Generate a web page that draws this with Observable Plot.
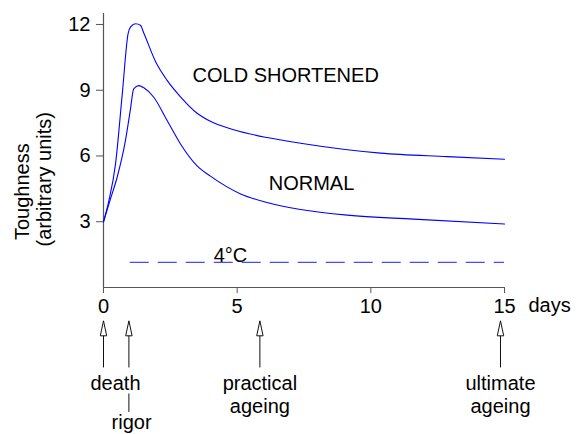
<!DOCTYPE html>
<html>
<head>
<meta charset="utf-8">
<script src="https://cdn.jsdelivr.net/npm/d3@7"></script>
<script src="https://cdn.jsdelivr.net/npm/@observablehq/plot@0.6"></script>
<style>
  html, body { margin: 0; padding: 0; background: #fff; }
</style>
</head>
<body>
<div id="chart"></div>
<script>
// ---- data ----
const coldDays      = [0, 0.2, 0.45, 0.7, 0.92, 1.02, 1.2, 1.38, 1.51, 1.95, 2.38, 2.88, 3.5, 4.0, 4.87, 6.12, 7.37, 10.36, 12.86, 15];
const coldToughness = [3.0, 3.95, 5.64, 8.8, 11.58, 11.9, 12.03, 11.96, 11.6, 10.3, 9.45, 8.7, 7.95, 7.58, 7.2, 6.84, 6.58, 6.13, 5.97, 5.85];

const normalDays      = [0, 0.25, 0.51, 0.82, 1.0, 1.13, 1.32, 1.51, 1.88, 2.38, 2.88, 3.5, 4.0, 5.13, 6.12, 7.37, 9.12, 11.6, 15];
const normalToughness = [3.0, 4.0, 5.03, 6.7, 8.07, 9.06, 9.21, 9.11, 8.68, 7.62, 6.55, 5.55, 5.08, 4.27, 3.88, 3.56, 3.3, 3.12, 2.9];

const seriesNames     = ["COLD SHORTENED", "NORMAL"];
const seriesLabelDay  = [3.33, 6.18];
const seriesLabelTough= [9.67, 4.72];

const tempLabel = "4°C";
const tempLevel = 1.15;
const tempStartDay = 1;
const tempEndDay = 15;

const xTicks = [0, 5, 10, 15];
const yTicks = [3, 6, 9, 12];
const xUnit = "days";
const yTitleLines = ["Toughness", "(arbitrary units)"];

const eventNames     = ["death", "rigor", "practical\nageing", "ultimate\nageing"];
const eventDays      = [0, 0.95, 5.85, 14.85];
const eventLabelDays = [0.45, 1.05, 5.85, 14.85];
const eventLabelRow  = [0, 1, 0, 0];

// ---- tables ----
const cold = coldDays.map((d, i) => ({day: d, tough: coldToughness[i]}));
const normal = normalDays.map((d, i) => ({day: d, tough: normalToughness[i]}));
const events = eventNames.map((n, i) => ({name: n, day: eventDays[i], labelDay: eventLabelDays[i], row: eventLabelRow[i]}));

// layout (annotation rows below the axis, in y-scale units)
const lay = {shaftBottom: -3.67, shaftTop: -2.2, tip: -1.52, row0: -3.93, row1: -5.72, rigorLink1: -4.86, rigorLink2: -5.7};

const arrowHead = {
  draw(context) {
    context.moveTo(0, 0);
    context.lineTo(3.2, 15);
    context.lineTo(-3.2, 15);
    context.closePath();
  }
};

const blue = "#0000ff";
const axisGray = "#555";

const chart = Plot.plot({
  width: 579,
  height: 434,
  marginLeft: 103,
  marginRight: 75,
  marginTop: 13,
  marginBottom: 147,
  x: {domain: [0, 15]},
  y: {domain: [0, 12.5]},
  style: {fontFamily: "'Liberation Sans', Arial, Helvetica, sans-serif", fontSize: "20px", color: "black", background: "white"},
  marks: [
    Plot.axisX({ticks: xTicks, tickSize: 6, tickPadding: 5, stroke: axisGray, label: null}),
    Plot.axisY({ticks: yTicks, tickSize: 7, tickPadding: 6, stroke: axisGray, label: null}),
    Plot.ruleY([0], {x1: 0, x2: 15, stroke: axisGray, strokeWidth: 1.2}),
    Plot.ruleX([0], {y1: 0, y2: 12.5, stroke: axisGray, strokeWidth: 1.2}),
    Plot.text([xUnit], {x: () => 15, y: () => 0, dx: 24, dy: 10.5, textAnchor: "start", lineAnchor: "top", text: d => d}),
    Plot.text(yTitleLines, {x: [-3.027, -2.185], y: [4.37, 4.94], rotate: -90, text: d => d, textAnchor: "middle", lineAnchor: "middle"}),

    // reference temperature
    Plot.ruleY([tempLevel], {x1: tempStartDay, x2: tempEndDay, stroke: "#4a4aff", strokeWidth: 1.2, strokeDasharray: "19,9"}),
    Plot.text([tempLabel], {x: () => 4.75, y: () => 1.45, text: d => d, textAnchor: "middle"}),

    // curves
    Plot.line(cold, {x: "day", y: "tough", stroke: blue, strokeWidth: 1.1, curve: "monotone-x"}),
    Plot.line(normal, {x: "day", y: "tough", stroke: blue, strokeWidth: 1.1, curve: "monotone-x"}),
    Plot.text(seriesNames, {x: seriesLabelDay, y: seriesLabelTough, text: d => d, textAnchor: "start"}),

    // event arrows
    Plot.ruleX(events, {x: "day", y1: () => lay.shaftBottom, y2: () => lay.shaftTop, stroke: "#111"}),
    Plot.dot(events, {x: "day", y: () => lay.tip, symbol: arrowHead, fill: "white", stroke: "#111", strokeWidth: 1}),
    Plot.ruleX(events.filter(e => e.row === 1), {x: "day", y1: () => lay.rigorLink1, y2: () => lay.rigorLink2, stroke: "#111"}),
    Plot.text(events, {x: "labelDay", y: d => d.row ? lay.row1 : lay.row0, text: "name", textAnchor: "middle", lineAnchor: "top", lineHeight: 1.15})
  ]
});

document.getElementById("chart").appendChild(chart);
</script>
</body>
</html>
